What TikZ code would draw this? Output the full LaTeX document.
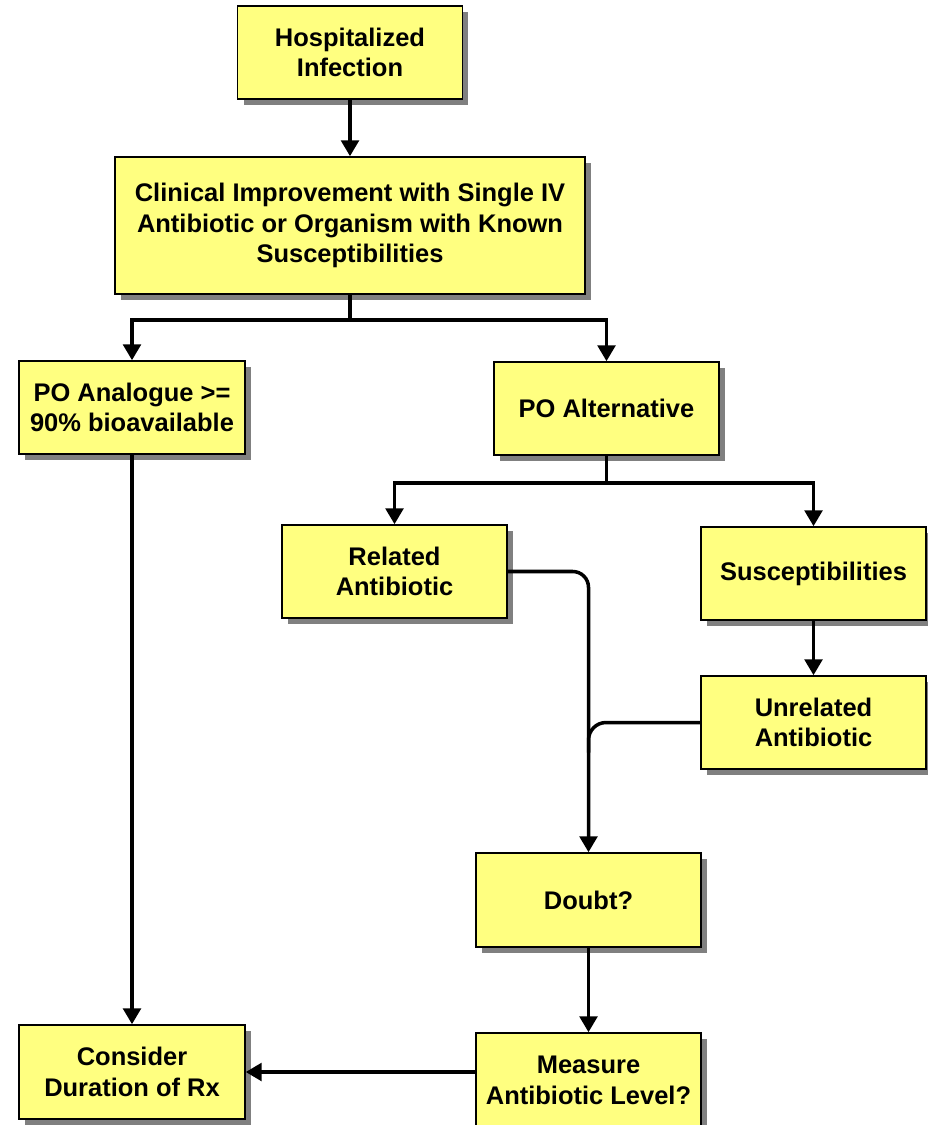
\documentclass[tikz,border=0pt]{standalone}
\usepackage{fontspec}
\setmainfont{Liberation Sans}
\usetikzlibrary{arrows.meta,shadows}
\definecolor{boxyellow}{HTML}{FFFF80}
\definecolor{shadowgray}{HTML}{808080}
\begin{document}
\begin{tikzpicture}[x=0.02cm,y=-0.02cm,
  box/.style={draw=black, line width=0.9pt, fill=boxyellow, inner sep=0pt,
    align=center, font=\fontsize{14.5}{17.5}\selectfont\bfseries,
    minimum width=4.5cm, minimum height=1.86cm,
    drop shadow={shadow xshift=0.12cm, shadow yshift=-0.12cm, fill=shadowgray, opacity=1}},
  conn/.style={line width=2pt, draw=black},
  arr/.style={conn, -{Triangle[length=9pt,width=10pt]}}]
\clip (0,0) rectangle (928,1125);
\fill[white] (0,0) rectangle (928,1125);

\node[box] (hosp) at (350,52.5) {Hospitalized\\Infection};
\node[box, minimum width=9.4cm, minimum height=2.74cm] (clin) at (350,225.5)
  {Clinical Improvement with Single IV\\Antibiotic or Organism with Known\\Susceptibilities};
\node[box, minimum width=4.52cm] (poan) at (132,407.5) {PO Analogue >=\\90\% bioavailable};
\node[box] (poalt) at (606.5,408.5) {PO Alternative};
\node[box] (rel) at (394.5,571.5) {Related\\Antibiotic};
\node[box] (sus) at (813.5,573.5) {Susceptibilities};
\node[box] (unrel) at (813.5,722.5) {Unrelated\\Antibiotic};
\node[box, minimum height=1.88cm] (doubt) at (588.5,900) {Doubt?};
\node[box, minimum height=1.88cm] (meas) at (588.5,1080) {Measure\\Antibiotic Level?};
\node[box, minimum width=4.52cm, minimum height=1.88cm] (cons) at (132,1072) {Consider\\Duration of Rx};

\draw[arr] (hosp.south) -- (clin.north);
\draw[arr] (clin.south) -- ++(0,25) -| (poan.north);
\draw[arr] (clin.south) -- ++(0,25) -| (poalt.north);
\draw[arr] (poan.south) -- (cons.north);
\draw[arr] (poalt.south) -- ++(0,27) -| (rel.north);
\draw[arr] (poalt.south) -- ++(0,27) -| (sus.north);
\draw[arr] (sus.south) -- (unrel.north);
\draw[arr, rounded corners=9pt] (rel.east) -- (rel.east -| doubt.north) -- (doubt.north);
\draw[conn, rounded corners=10pt] (unrel.west) -- (unrel.west -| doubt.north) -- ++(0,30);
\draw[arr] (doubt.south) -- (meas.north);
\draw[arr] (cons.east -| meas.west) -- (cons.east);
\end{tikzpicture}
\end{document}
